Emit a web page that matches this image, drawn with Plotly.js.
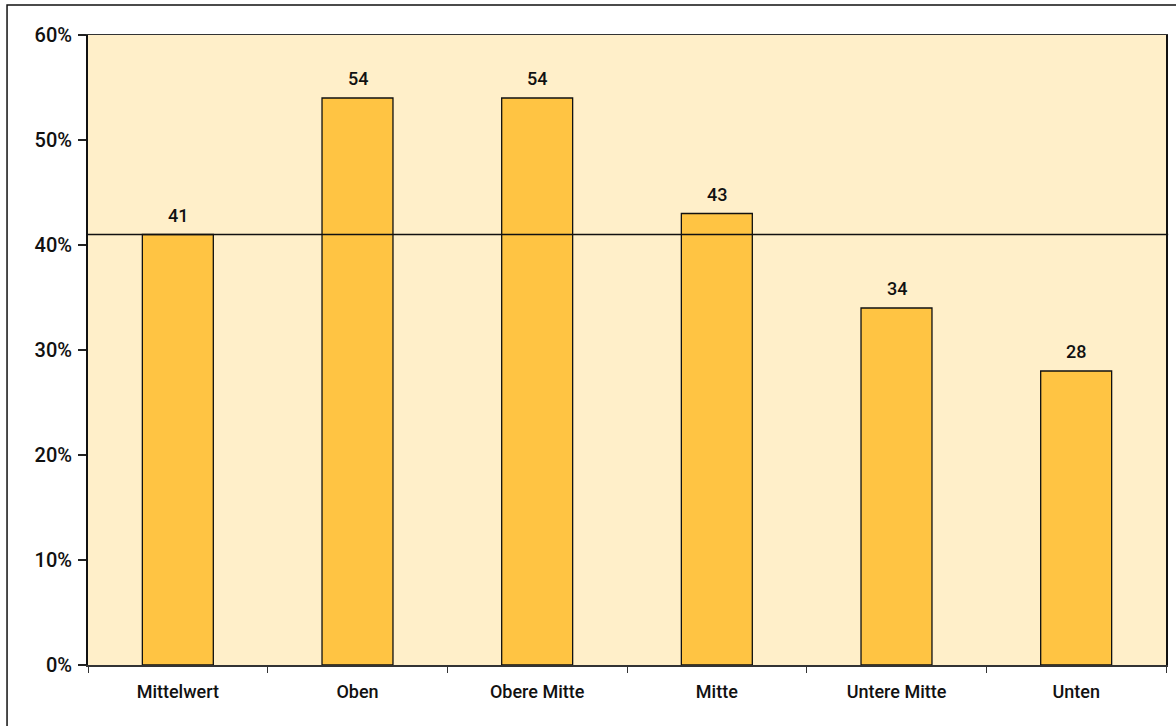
<!DOCTYPE html>
<html>
<head>
<meta charset="utf-8">
<script src="https://cdn.plot.ly/plotly-3.0.1.min.js"></script>
<style>
  html, body { margin: 0; padding: 0; background: #ffffff; }
  #chart { width: 1176px; height: 726px; }
</style>
</head>
<body>
<div id="chart"></div>
<script>
// Anteil je Gruppe in Prozent
const categories = ["Mittelwert", "Oben", "Obere Mitte", "Mitte", "Untere Mitte", "Unten"];
const shares = [41, 54, 54, 43, 34, 28];
const averageValue = 41;
const yTickValues = [0, 10, 20, 30, 40, 50, 60];
const yTickLabels = ["0%", "10%", "20%", "30%", "40%", "50%", "60%"];

const fontFamily = "Roboto, 'DejaVu Sans Condensed', sans-serif";
const labelFont = { family: fontFamily, size: 18, color: "#111111", weight: 500 };

const trace = {
  type: "bar",
  x: categories,
  y: shares,
  marker: { color: "#FFC443", line: { color: "#111111", width: 1.3 } },
  width: 0.395,
  hoverinfo: "x+y"
};

// value labels above each bar
const valueLabels = categories.map((c, i) => ({
  x: c,
  y: shares[i],
  xref: "x",
  yref: "y",
  text: String(shares[i]),
  showarrow: false,
  yanchor: "bottom",
  yshift: 7,
  font: labelFont
}));

const layout = {
  width: 1176,
  height: 726,
  margin: { l: 88, r: 10, t: 35, b: 61 },
  paper_bgcolor: "#ffffff",
  plot_bgcolor: "#FFEFC9",
  showlegend: false,
  font: labelFont,
  xaxis: {
    type: "category",
    tickson: "boundaries",
    ticks: "outside",
    ticklen: 6,
    tickcolor: "#333333",
    tickwidth: 1,
    ticklabelstandoff: 10,
    showline: true,
    linecolor: "#333333",
    linewidth: 1.5,
    mirror: true,
    showgrid: false,
    tickfont: labelFont
  },
  yaxis: {
    range: [0, 60],
    tickvals: yTickValues,
    ticktext: yTickLabels,
    ticks: "outside",
    ticklen: 8,
    tickcolor: "#222222",
    tickwidth: 1.2,
    ticklabelstandoff: 2,
    showline: true,
    linecolor: "#111111",
    linewidth: 2,
    mirror: true,
    showgrid: false,
    zeroline: false,
    tickfont: { family: fontFamily, size: 20, color: "#111111", weight: 500 }
  },
  annotations: valueLabels,
  shapes: [
    {
      type: "line",
      xref: "paper", yref: "y",
      x0: 0, x1: 1.002,
      y0: averageValue, y1: averageValue,
      line: { color: "#111111", width: 1.5 },
      layer: "above"
    },
    {
      type: "rect",
      xref: "paper", yref: "paper",
      x0: -0.0751, x1: 1.2,
      y0: -0.3, y1: 1.0476,
      line: { color: "#111111", width: 1.5 },
      fillcolor: "rgba(0,0,0,0)",
      layer: "below"
    }
  ]
};

Plotly.newPlot("chart", [trace], layout, { displayModeBar: false, staticPlot: true });
</script>
</body>
</html>
